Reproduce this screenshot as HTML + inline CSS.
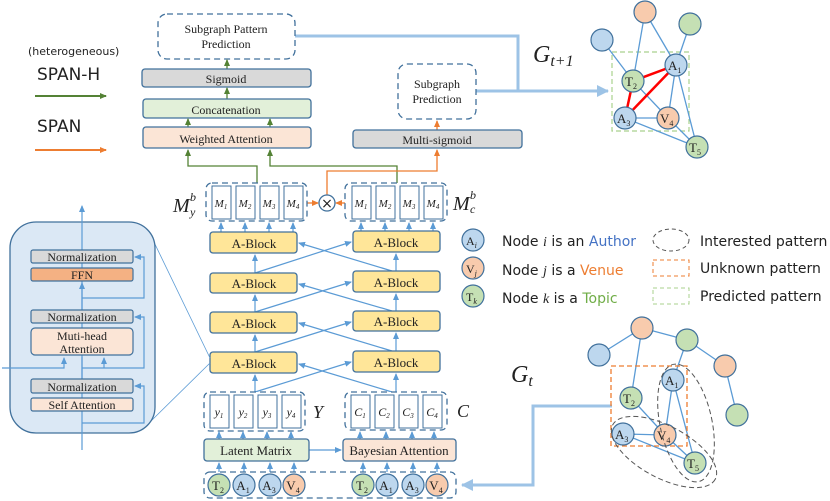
<!DOCTYPE html>
<html><head><meta charset="utf-8"><style>
html,body{margin:0;padding:0;background:#fff}
svg{display:block}
text{font-family:"Liberation Serif",serif;fill:#222}
text.s,.s text{font-family:"DejaVu Sans","Liberation Sans",sans-serif}
.s tspan.it{font-family:"Liberation Serif",serif;font-style:italic}
</style></head><body>
<svg width="830" height="501" viewBox="0 0 830 501" xmlns="http://www.w3.org/2000/svg">
<defs>
<marker id="ab" markerWidth="8" markerHeight="8" refX="6" refY="4" orient="auto" markerUnits="userSpaceOnUse"><path d="M0,1 L7,4 L0,7 z" fill="#5b9bd5"/></marker>
<marker id="ag" markerWidth="8" markerHeight="8" refX="6" refY="4" orient="auto" markerUnits="userSpaceOnUse"><path d="M0,1 L7,4 L0,7 z" fill="#548235"/></marker>
<marker id="ao" markerWidth="8" markerHeight="8" refX="6" refY="4" orient="auto" markerUnits="userSpaceOnUse"><path d="M0,1 L7,4 L0,7 z" fill="#ed7d31"/></marker>
<marker id="abig" markerWidth="14" markerHeight="14" refX="11" refY="7" orient="auto" markerUnits="userSpaceOnUse"><path d="M0,1 L12,7 L0,13 z" fill="#9dc3e6"/></marker>
</defs>

<!-- top-left legend -->
<text x="28" y="55" class="s" font-size="11">(heterogeneous)</text>
<text x="37" y="80" class="s" font-size="17">SPAN-H</text>
<line x1="35" y1="96" x2="106" y2="96" stroke="#548235" stroke-width="2" marker-end="url(#ag)"/>
<text x="37" y="132" class="s" font-size="17">SPAN</text>
<line x1="35" y1="150" x2="106" y2="150" stroke="#ed7d31" stroke-width="2" marker-end="url(#ao)"/>

<!-- big blue output connectors -->
<polyline points="295,36 518,36 518,91 608,91" fill="none" stroke="#9dc3e6" stroke-width="3" marker-end="url(#abig)"/>
<line x1="476" y1="91" x2="518" y2="91" stroke="#9dc3e6" stroke-width="3"/>
<polyline points="612,406 533,406 533,485 462,485" fill="none" stroke="#9dc3e6" stroke-width="3" marker-end="url(#abig)"/>

<!-- top stack -->
<rect x="158" y="14" width="137" height="45" rx="9" fill="#fff" stroke="#41719c" stroke-dasharray="6,4" stroke-width="1.3"/>
<text x="226" y="33" font-size="12" text-anchor="middle">Subgraph Pattern</text>
<text x="226" y="48" font-size="12" text-anchor="middle">Prediction</text>
<line x1="227" y1="69" x2="227" y2="60" stroke="#548235" stroke-width="1.3" marker-end="url(#ag)"/>
<rect x="142" y="69" width="169" height="18" rx="3" fill="#d9d9d9" stroke="#41719c" stroke-width="1.3"/>
<text x="226" y="83" font-size="12" text-anchor="middle">Sigmoid</text>
<line x1="227" y1="99" x2="227" y2="88" stroke="#548235" stroke-width="1.3" marker-end="url(#ag)"/>
<rect x="143" y="99" width="168" height="19" rx="3" fill="#e2f0d9" stroke="#41719c" stroke-width="1.3"/>
<text x="226" y="114" font-size="12" text-anchor="middle">Concatenation</text>
<line x1="188" y1="127" x2="188" y2="119" stroke="#548235" stroke-width="1.3" marker-end="url(#ag)"/>
<line x1="270" y1="127" x2="270" y2="119" stroke="#548235" stroke-width="1.3" marker-end="url(#ag)"/>
<rect x="143" y="127" width="168" height="21" rx="3" fill="#fbe5d6" stroke="#41719c" stroke-width="1.3"/>
<text x="226" y="143" font-size="12" text-anchor="middle">Weighted Attention</text>

<rect x="398" y="64" width="78" height="55" rx="9" fill="#fff" stroke="#41719c" stroke-dasharray="6,4" stroke-width="1.3"/>
<text x="437" y="88" font-size="12" text-anchor="middle">Subgraph</text>
<text x="437" y="103" font-size="12" text-anchor="middle">Prediction</text>
<line x1="437" y1="130" x2="437" y2="121" stroke="#ed7d31" stroke-width="1.3" marker-end="url(#ao)"/>
<rect x="353" y="130" width="169" height="18" rx="3" fill="#d9d9d9" stroke="#41719c" stroke-width="1.3"/>
<text x="437" y="144" font-size="12" text-anchor="middle">Multi-sigmoid</text>

<!-- green/orange connectors -->
<polyline points="257,183 257,166 188,166 188,150" fill="none" stroke="#548235" stroke-width="1.3" marker-end="url(#ag)"/>
<polyline points="397,183 397,166 270,166 270,150" fill="none" stroke="#548235" stroke-width="1.3" marker-end="url(#ag)"/>
<polyline points="327,195 327,171 437,171 437,150" fill="none" stroke="#ed7d31" stroke-width="1.3" marker-end="url(#ao)"/>
<line x1="307" y1="203" x2="318" y2="203" stroke="#ed7d31" stroke-width="1.3" marker-end="url(#ao)"/>
<line x1="345" y1="203" x2="336" y2="203" stroke="#ed7d31" stroke-width="1.3" marker-end="url(#ao)"/>
<circle cx="327" cy="203" r="8" fill="#fff" stroke="#41719c" stroke-width="1.3"/>
<text x="327" y="208" font-size="14" text-anchor="middle" class="s">×</text>

<!-- M boxes -->
<rect x="206" y="183" width="101" height="38" rx="6" fill="#fff" stroke="#41719c" stroke-dasharray="6,4" stroke-width="1.3"/>
<rect x="345" y="183" width="102" height="38" rx="6" fill="#fff" stroke="#41719c" stroke-dasharray="6,4" stroke-width="1.3"/>
<g stroke="#41719c">
<rect x="212" y="186" width="19" height="33" fill="#fff"/><rect x="236" y="186" width="19" height="33" fill="#fff"/><rect x="260" y="186" width="19" height="33" fill="#fff"/><rect x="284" y="186" width="19" height="33" fill="#fff"/>
<rect x="352" y="186" width="19" height="33" fill="#fff"/><rect x="376" y="186" width="19" height="33" fill="#fff"/><rect x="400" y="186" width="19" height="33" fill="#fff"/><rect x="424" y="186" width="19" height="33" fill="#fff"/>
</g>
<g font-size="11" font-style="italic" text-anchor="middle">
<text x="221" y="207">M<tspan font-size="7" dy="2">1</tspan></text><text x="245" y="207">M<tspan font-size="7" dy="2">2</tspan></text><text x="269" y="207">M<tspan font-size="7" dy="2">3</tspan></text><text x="293" y="207">M<tspan font-size="7" dy="2">4</tspan></text>
<text x="361" y="207">M<tspan font-size="7" dy="2">1</tspan></text><text x="385" y="207">M<tspan font-size="7" dy="2">2</tspan></text><text x="409" y="207">M<tspan font-size="7" dy="2">3</tspan></text><text x="433" y="207">M<tspan font-size="7" dy="2">4</tspan></text>
</g>
<text x="173" y="212" font-size="20" font-style="italic">M</text><text x="190" y="201" font-size="12" font-style="italic">b</text><text x="190" y="216" font-size="12" font-style="italic">y</text>
<text x="453" y="210" font-size="20" font-style="italic">M</text><text x="470" y="199" font-size="12" font-style="italic">b</text><text x="470" y="213" font-size="12" font-style="italic">c</text>

<!-- arrows into M cells -->
<g stroke="#5b9bd5" stroke-width="1.2" marker-end="url(#ab)">
<line x1="221" y1="232" x2="221" y2="223"/><line x1="245" y1="232" x2="245" y2="223"/><line x1="269" y1="232" x2="269" y2="223"/><line x1="293" y1="232" x2="293" y2="223"/>
<line x1="361" y1="231" x2="361" y2="223"/><line x1="385" y1="231" x2="385" y2="223"/><line x1="409" y1="231" x2="409" y2="223"/><line x1="433" y1="231" x2="433" y2="223"/>
</g>

<!-- A-blocks connectors -->
<g stroke="#5b9bd5" stroke-width="1.2" fill="none">
<line x1="255" y1="273" x2="255" y2="255" marker-end="url(#ab)"/>
<line x1="255" y1="312" x2="255" y2="295" marker-end="url(#ab)"/>
<line x1="255" y1="352" x2="255" y2="335" marker-end="url(#ab)"/>
<line x1="255" y1="392" x2="255" y2="375" marker-end="url(#ab)"/>
<line x1="396" y1="271" x2="396" y2="254" marker-end="url(#ab)"/>
<line x1="396" y1="311" x2="396" y2="294" marker-end="url(#ab)"/>
<line x1="396" y1="351" x2="396" y2="333" marker-end="url(#ab)"/>
<line x1="396" y1="392" x2="396" y2="374" marker-end="url(#ab)"/>
<line x1="255" y1="273" x2="351" y2="242" marker-end="url(#ab)"/>
<line x1="255" y1="312" x2="351" y2="282" marker-end="url(#ab)"/>
<line x1="255" y1="352" x2="351" y2="322" marker-end="url(#ab)"/>
<line x1="255" y1="392" x2="351" y2="362" marker-end="url(#ab)"/>
<line x1="392" y1="271" x2="299" y2="243" marker-end="url(#ab)"/>
<line x1="392" y1="311" x2="299" y2="284" marker-end="url(#ab)"/>
<line x1="392" y1="351" x2="299" y2="323" marker-end="url(#ab)"/>
<line x1="392" y1="392" x2="299" y2="364" marker-end="url(#ab)"/>
</g>
<g font-size="13" text-anchor="middle">
<rect x="210" y="232" width="87" height="21" rx="3" fill="#ffe699" stroke="#41719c" stroke-width="1.3"/><text x="254" y="248">A-Block</text>
<rect x="210" y="273" width="87" height="20" rx="3" fill="#ffe699" stroke="#41719c" stroke-width="1.3"/><text x="254" y="288">A-Block</text>
<rect x="210" y="312" width="87" height="21" rx="3" fill="#ffe699" stroke="#41719c" stroke-width="1.3"/><text x="254" y="328">A-Block</text>
<rect x="210" y="352" width="87" height="21" rx="3" fill="#ffe699" stroke="#41719c" stroke-width="1.3"/><text x="254" y="368">A-Block</text>
<rect x="353" y="231" width="87" height="21" rx="3" fill="#ffe699" stroke="#41719c" stroke-width="1.3"/><text x="396" y="247">A-Block</text>
<rect x="353" y="271" width="87" height="21" rx="3" fill="#ffe699" stroke="#41719c" stroke-width="1.3"/><text x="396" y="287">A-Block</text>
<rect x="353" y="311" width="87" height="20" rx="3" fill="#ffe699" stroke="#41719c" stroke-width="1.3"/><text x="396" y="326">A-Block</text>
<rect x="353" y="351" width="87" height="21" rx="3" fill="#ffe699" stroke="#41719c" stroke-width="1.3"/><text x="396" y="367">A-Block</text>
</g>

<!-- Y / C boxes -->
<rect x="204" y="392" width="101" height="39" rx="6" fill="#fff" stroke="#41719c" stroke-dasharray="6,4" stroke-width="1.3"/>
<rect x="345" y="392" width="102" height="38" rx="6" fill="#fff" stroke="#41719c" stroke-dasharray="6,4" stroke-width="1.3"/>
<g stroke="#41719c" fill="#fff">
<rect x="210" y="395" width="19" height="33"/><rect x="234" y="395" width="19" height="33"/><rect x="258" y="395" width="19" height="33"/><rect x="282" y="395" width="19" height="33"/>
<rect x="351" y="395" width="19" height="33"/><rect x="375" y="395" width="19" height="33"/><rect x="399" y="395" width="19" height="33"/><rect x="423" y="395" width="19" height="33"/>
</g>
<g font-size="12" font-style="italic" text-anchor="middle">
<text x="219" y="416">y<tspan font-size="7" dy="2">1</tspan></text><text x="243" y="416">y<tspan font-size="7" dy="2">2</tspan></text><text x="267" y="416">y<tspan font-size="7" dy="2">3</tspan></text><text x="291" y="416">y<tspan font-size="7" dy="2">4</tspan></text>
<text x="360" y="416">C<tspan font-size="7" dy="2">1</tspan></text><text x="384" y="416">C<tspan font-size="7" dy="2">2</tspan></text><text x="408" y="416">C<tspan font-size="7" dy="2">3</tspan></text><text x="432" y="416">C<tspan font-size="7" dy="2">4</tspan></text>
</g>
<text x="313" y="418" font-size="18" font-style="italic">Y</text>
<text x="457" y="417" font-size="18" font-style="italic">C</text>
<g stroke="#5b9bd5" stroke-width="1.2" marker-end="url(#ab)">
<line x1="219" y1="439" x2="219" y2="432"/><line x1="243" y1="439" x2="243" y2="432"/><line x1="267" y1="439" x2="267" y2="432"/><line x1="291" y1="439" x2="291" y2="432"/>
<line x1="360" y1="439" x2="360" y2="432"/><line x1="386" y1="439" x2="386" y2="432"/><line x1="412" y1="439" x2="412" y2="432"/><line x1="434" y1="439" x2="434" y2="432"/>
<line x1="219" y1="474" x2="219" y2="463"/><line x1="244" y1="474" x2="244" y2="463"/><line x1="270" y1="474" x2="270" y2="463"/><line x1="294" y1="474" x2="294" y2="463"/>
<line x1="363" y1="474" x2="363" y2="463"/><line x1="387" y1="474" x2="387" y2="463"/><line x1="413" y1="474" x2="413" y2="463"/><line x1="437" y1="474" x2="437" y2="463"/>
<line x1="309" y1="450" x2="341" y2="450"/>
</g>
<rect x="204" y="439" width="105" height="22" rx="3" fill="#e2f0d9" stroke="#41719c" stroke-width="1.3"/>
<text x="256" y="455" font-size="13" text-anchor="middle">Latent Matrix</text>
<rect x="343" y="439" width="113" height="22" rx="3" fill="#fbe5d6" stroke="#41719c" stroke-width="1.3"/>
<text x="399" y="455" font-size="13" text-anchor="middle">Bayesian Attention</text>

<rect x="204" y="472" width="252" height="26" rx="6" fill="#fff" stroke="#41719c" stroke-dasharray="6,4" stroke-width="1.3"/>
<g stroke="#41719c" stroke-width="1.2">
<circle cx="219" cy="485" r="11" fill="#c5e0b4"/><circle cx="244" cy="485" r="11" fill="#bdd7ee"/><circle cx="270" cy="485" r="11" fill="#bdd7ee"/><circle cx="294" cy="485" r="11" fill="#f8cbad"/>
<circle cx="363" cy="485" r="11" fill="#c5e0b4"/><circle cx="387" cy="485" r="11" fill="#bdd7ee"/><circle cx="413" cy="485" r="11" fill="#bdd7ee"/><circle cx="437" cy="485" r="11" fill="#f8cbad"/>
</g>
<g font-size="13" text-anchor="middle">
<text x="218" y="490">T<tspan font-size="8" dy="3">2</tspan></text><text x="243" y="490">A<tspan font-size="8" dy="3">1</tspan></text><text x="269" y="490">A<tspan font-size="8" dy="3">3</tspan></text><text x="293" y="490">V<tspan font-size="8" dy="3">4</tspan></text>
<text x="362" y="490">T<tspan font-size="8" dy="3">2</tspan></text><text x="386" y="490">A<tspan font-size="8" dy="3">1</tspan></text><text x="412" y="490">A<tspan font-size="8" dy="3">3</tspan></text><text x="436" y="490">V<tspan font-size="8" dy="3">4</tspan></text>
</g>

<!-- left detail panel -->
<line x1="152" y1="238" x2="210" y2="358" stroke="#5b9bd5" stroke-width="0.8"/>
<line x1="150" y1="422" x2="210" y2="363" stroke="#5b9bd5" stroke-width="0.8"/>
<rect x="10" y="222" width="145" height="211" rx="26" fill="#dbe8f5" stroke="#41719c" stroke-width="1.3"/>
<g stroke="#5b9bd5" stroke-width="1.2" fill="none">
<line x1="82" y1="450" x2="82" y2="206" marker-end="url(#ab)"/>
<polyline points="82,423 144,423 144,386 135,386" marker-end="url(#ab)"/>
<polyline points="82,368 144,368 144,317 135,317" marker-end="url(#ab)"/>
<polyline points="82,298 144,298 144,257 135,257" marker-end="url(#ab)"/>
<polyline points="104,368 104,358" marker-end="url(#ab)"/>
<polyline points="2,368 64,368 64,358" marker-end="url(#ab)"/>
<line x1="82" y1="310" x2="82" y2="283" marker-end="url(#ab)"/>
<line x1="82" y1="379" x2="82" y2="357"/>
</g>
<g stroke="#41719c" stroke-width="1.2">
<rect x="31" y="250" width="102" height="13" rx="2" fill="#d9d9d9"/>
<rect x="31" y="268" width="102" height="13" rx="2" fill="#f4b183"/>
<rect x="31" y="310" width="102" height="13" rx="2" fill="#d9d9d9"/>
<rect x="31" y="328" width="102" height="27" rx="4" fill="#fbe5d6"/>
<rect x="31" y="379" width="102" height="14" rx="2" fill="#d9d9d9"/>
<rect x="31" y="398" width="102" height="13" rx="2" fill="#fbe5d6"/>
</g>
<g font-size="12" text-anchor="middle">
<text x="82" y="261">Normalization</text><text x="82" y="279">FFN</text><text x="82" y="321">Normalization</text>
<text x="82" y="340">Muti-head</text><text x="82" y="353">Attention</text>
<text x="82" y="391">Normalization</text><text x="82" y="409">Self Attention</text>
</g>

<!-- legend right -->
<g stroke="#41719c" stroke-width="1.2">
<circle cx="473" cy="240" r="11" fill="#bdd7ee"/><circle cx="473" cy="268" r="11" fill="#f8cbad"/><circle cx="473" cy="296" r="11" fill="#c5e0b4"/>
</g>
<g font-size="12"><text x="466" y="245">A<tspan font-size="8" font-style="italic" dy="3">i</tspan></text><text x="466" y="273">V<tspan font-size="8" font-style="italic" dy="3">j</tspan></text><text x="466" y="301">T<tspan font-size="8" font-style="italic" dy="3">k</tspan></text></g>
<g class="s" font-size="14">
<text x="502" y="246">Node <tspan class="it">i</tspan> is an <tspan fill="#4472c4">Author</tspan></text>
<text x="502" y="275">Node <tspan class="it">j</tspan> is a <tspan fill="#ed7d31">Venue</tspan></text>
<text x="502" y="303">Node <tspan class="it">k</tspan> is a <tspan fill="#70ad47">Topic</tspan></text>
<text x="700" y="246">Interested pattern</text>
<text x="700" y="273">Unknown pattern</text>
<text x="700" y="301">Predicted pattern</text>
</g>
<ellipse cx="671" cy="240" rx="18" ry="11" fill="none" stroke="#555" stroke-dasharray="4,3"/>
<rect x="653" y="260" width="36" height="16" fill="none" stroke="#ed7d31" stroke-dasharray="4,3"/>
<rect x="653" y="288" width="36" height="16" fill="none" stroke="#a9d18e" stroke-dasharray="4,3"/>

<!-- G t+1 -->
<text x="533" y="62" font-size="24" font-style="italic">G<tspan font-size="16" dy="4">t+1</tspan></text>
<rect x="612" y="52" width="77" height="79" fill="none" stroke="#a9d18e" stroke-dasharray="5,3" stroke-width="1.2"/>
<g stroke="#5b9bd5" stroke-width="1.3">
<line x1="602" y1="40" x2="633" y2="81"/><line x1="645" y1="12" x2="633" y2="81"/><line x1="645" y1="12" x2="676" y2="65"/><line x1="690" y1="24" x2="676" y2="65"/>
<line x1="676" y1="65" x2="668" y2="118"/><line x1="676" y1="65" x2="697" y2="147"/><line x1="633" y1="81" x2="668" y2="118"/><line x1="625" y1="118" x2="668" y2="118"/>
<line x1="625" y1="118" x2="697" y2="147"/><line x1="668" y1="118" x2="697" y2="147"/>
</g>
<g stroke="#ff0000" stroke-width="2.5"><line x1="633" y1="81" x2="676" y2="65"/><line x1="633" y1="81" x2="625" y2="118"/><line x1="625" y1="118" x2="676" y2="65"/></g>
<g stroke="#41719c" stroke-width="1.2">
<circle cx="602" cy="40" r="11" fill="#bdd7ee"/><circle cx="645" cy="12" r="11" fill="#f8cbad"/><circle cx="690" cy="24" r="11" fill="#c5e0b4"/>
<circle cx="676" cy="65" r="11" fill="#bdd7ee"/><circle cx="633" cy="81" r="11" fill="#c5e0b4"/><circle cx="625" cy="118" r="11" fill="#bdd7ee"/><circle cx="668" cy="118" r="11" fill="#f8cbad"/><circle cx="697" cy="147" r="11" fill="#c5e0b4"/>
</g>
<g font-size="13"><text x="668" y="70">A<tspan font-size="8" dy="3">1</tspan></text><text x="625" y="86">T<tspan font-size="8" dy="3">2</tspan></text><text x="617" y="123">A<tspan font-size="8" dy="3">3</tspan></text><text x="660" y="123">V<tspan font-size="8" dy="3">4</tspan></text><text x="689" y="152">T<tspan font-size="8" dy="3">5</tspan></text></g>

<!-- G t -->
<text x="511" y="382" font-size="24" font-style="italic">G<tspan font-size="16" dy="4">t</tspan></text>
<g stroke="#5b9bd5" stroke-width="1.3">
<line x1="599" y1="355" x2="642" y2="328"/><line x1="642" y1="328" x2="631" y2="398"/><line x1="642" y1="328" x2="687" y2="340"/><line x1="687" y1="340" x2="673" y2="380"/>
<line x1="687" y1="340" x2="725" y2="366"/><line x1="725" y1="366" x2="737" y2="415"/>
<line x1="673" y1="380" x2="665" y2="435"/><line x1="673" y1="380" x2="695" y2="463"/><line x1="631" y1="398" x2="665" y2="435"/><line x1="623" y1="434" x2="665" y2="435"/>
<line x1="623" y1="434" x2="695" y2="463"/><line x1="665" y1="435" x2="695" y2="463"/>
</g>
<rect x="611" y="366" width="76" height="80" fill="none" stroke="#ed7d31" stroke-dasharray="5,3" stroke-width="1.3"/>
<g stroke="#41719c" stroke-width="1.2">
<circle cx="599" cy="355" r="11" fill="#bdd7ee"/><circle cx="642" cy="328" r="11" fill="#f8cbad"/><circle cx="687" cy="340" r="11" fill="#c5e0b4"/><circle cx="725" cy="366" r="11" fill="#f8cbad"/><circle cx="737" cy="415" r="11" fill="#c5e0b4"/>
<circle cx="673" cy="380" r="11" fill="#bdd7ee"/><circle cx="631" cy="398" r="11" fill="#c5e0b4"/><circle cx="623" cy="434" r="11" fill="#bdd7ee"/><circle cx="665" cy="435" r="11" fill="#f8cbad"/><circle cx="695" cy="463" r="11" fill="#c5e0b4"/>
</g>
<g font-size="13"><text x="665" y="385">A<tspan font-size="8" dy="3">1</tspan></text><text x="623" y="403">T<tspan font-size="8" dy="3">2</tspan></text><text x="615" y="439">A<tspan font-size="8" dy="3">3</tspan></text><text x="657" y="440">V<tspan font-size="8" dy="3">4</tspan></text><text x="687" y="468">T<tspan font-size="8" dy="3">5</tspan></text></g>
<ellipse cx="686" cy="423" rx="26" ry="60" transform="rotate(-12 686 423)" fill="none" stroke="#555" stroke-dasharray="5,3"/>
<ellipse cx="664" cy="452" rx="58" ry="26" transform="rotate(28 664 452)" fill="none" stroke="#555" stroke-dasharray="5,3"/>
</svg>
</body></html>
